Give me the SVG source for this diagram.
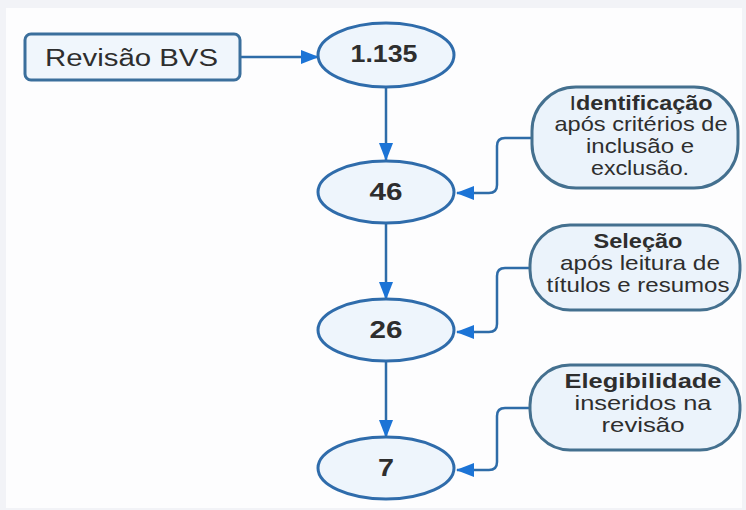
<svg xmlns="http://www.w3.org/2000/svg" width="746" height="510" viewBox="0 0 746 510">
<defs>
<style>
.bg{fill:#f2f3f7}
.panel{fill:#fdfdfe}
.box{fill:#f0f6fc;stroke:#3b6f9c;stroke-width:3}
.ell{fill:#eef5fc;stroke:#2f6cab;stroke-width:3}
.call{fill:#ebf3fb;stroke:#44708f;stroke-width:3}
.con{fill:none;stroke:#2e6ca8;stroke-width:2.5;stroke-linejoin:round}
.t{font-family:"Liberation Sans",Arial,sans-serif;fill:#2e2e2e;text-anchor:middle}
.num{font-size:24px;font-weight:bold}
.lbl{font-size:21px}
.b{font-weight:bold}
</style>
<marker id="ah" viewBox="0 0 18 14" refX="17" refY="7" markerWidth="18" markerHeight="14" markerUnits="userSpaceOnUse" orient="auto">
<path d="M0,0 L18,7 L0,14 z" fill="#1c74d6"/>
</marker>
</defs>
<rect class="bg" x="0" y="0" width="746" height="510"/>
<rect class="panel" x="6" y="8" width="736" height="500"/>
<g id="connectors">
<path class="con" d="M240,57 H318" marker-end="url(#ah)"/>
<path class="con" d="M386,88 V160" marker-end="url(#ah)"/>
<path class="con" d="M386,223 V299" marker-end="url(#ah)"/>
<path class="con" d="M386,361 V437" marker-end="url(#ah)"/>
<path class="con" d="M532,138 H505 Q497,138 497,146 V185 Q497,193 489,193 H457" marker-end="url(#ah)"/>
<path class="con" d="M530,268 H505 Q497,268 497,276 V324 Q497,332 489,332 H457" marker-end="url(#ah)"/>
<path class="con" d="M530,408 H505 Q497,408 497,416 V462 Q497,470 489,470 H457" marker-end="url(#ah)"/>
</g>
<g id="revisao">
<rect class="box" x="25" y="34" width="215" height="46" rx="6"/>
<text class="t" x="131.5" y="66" font-size="23" textLength="173" lengthAdjust="spacingAndGlyphs">Revisão BVS</text>
</g>
<g id="n1135">
<ellipse class="ell" cx="386" cy="55" rx="68" ry="32"/>
<text class="t num" x="384" y="62" textLength="67" lengthAdjust="spacingAndGlyphs">1.135</text>
</g>
<g id="n46">
<ellipse class="ell" cx="386" cy="192" rx="68" ry="31"/>
<text class="t num" x="386" y="200" textLength="33" lengthAdjust="spacingAndGlyphs">46</text>
</g>
<g id="n26">
<ellipse class="ell" cx="386" cy="330" rx="68" ry="31"/>
<text class="t num" x="386" y="338" textLength="33" lengthAdjust="spacingAndGlyphs">26</text>
</g>
<g id="n7">
<ellipse class="ell" cx="386" cy="468" rx="68" ry="31"/>
<text class="t num" x="386" y="476" textLength="16" lengthAdjust="spacingAndGlyphs">7</text>
</g>
<g id="identificacao">
<rect class="call" x="532" y="87" width="206" height="101" rx="44" ry="44"/>
<text class="t lbl" x="641" y="110" textLength="143" lengthAdjust="spacingAndGlyphs"><tspan>I</tspan><tspan class="b">dentificação</tspan></text>
<text class="t lbl" x="641" y="131" textLength="173" lengthAdjust="spacingAndGlyphs">após critérios de</text>
<text class="t lbl" x="640" y="153" textLength="108" lengthAdjust="spacingAndGlyphs">inclusão e</text>
<text class="t lbl" x="640" y="175" textLength="98" lengthAdjust="spacingAndGlyphs">exclusão.</text>
</g>
<g id="selecao">
<rect class="call" x="530" y="225" width="210" height="85" rx="40" ry="40"/>
<text class="t lbl b" x="638" y="248" textLength="89" lengthAdjust="spacingAndGlyphs">Seleção</text>
<text class="t lbl" x="640" y="270" textLength="160" lengthAdjust="spacingAndGlyphs">após leitura de</text>
<text class="t lbl" x="638" y="292" textLength="183" lengthAdjust="spacingAndGlyphs">títulos e resumos</text>
</g>
<g id="elegibilidade">
<rect class="call" x="530" y="365" width="210" height="85" rx="40" ry="40"/>
<text class="t lbl b" x="643" y="388" textLength="157" lengthAdjust="spacingAndGlyphs">Elegibilidade</text>
<text class="t lbl" x="643" y="410" textLength="137" lengthAdjust="spacingAndGlyphs">inseridos na</text>
<text class="t lbl" x="643" y="432" textLength="83" lengthAdjust="spacingAndGlyphs">revisão</text>
</g>
</svg>
